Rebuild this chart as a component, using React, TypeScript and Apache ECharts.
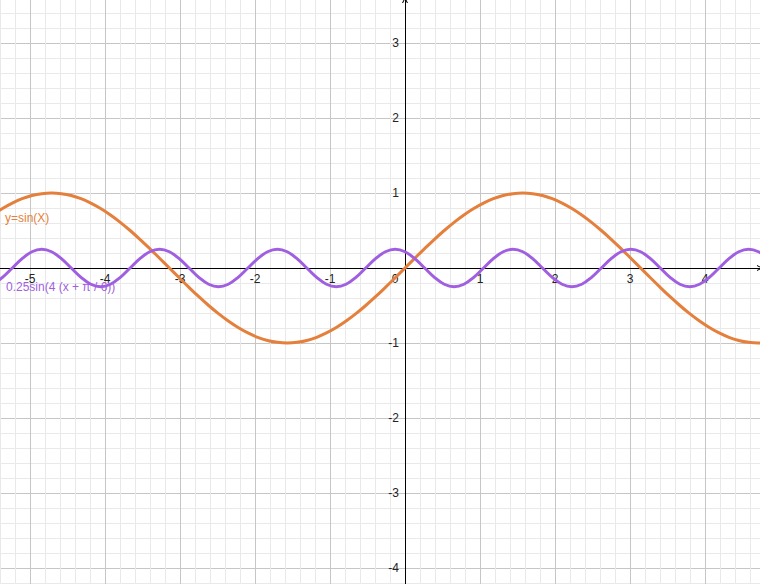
import React, { useEffect, useRef } from "react";
import * as echarts from "echarts";

// sample abscissas (radians)
const xs = [
  -5.4978, -5.3669, -5.236, -5.1051, -4.9742, -4.8433, -4.7124, -4.5815, -4.4506, -4.3197,
  -4.1888, -4.0579, -3.927, -3.7961, -3.6652, -3.5343, -3.4034, -3.2725, -3.1416, -3.0107,
  -2.8798, -2.7489, -2.618, -2.4871, -2.3562, -2.2253, -2.0944, -1.9635, -1.8326, -1.7017,
  -1.5708, -1.4399, -1.309, -1.1781, -1.0472, -0.9163, -0.7854, -0.6545, -0.5236, -0.3927,
  -0.2618, -0.1309, 0, 0.1309, 0.2618, 0.3927, 0.5236, 0.6545, 0.7854, 0.9163,
  1.0472, 1.1781, 1.309, 1.4399, 1.5708, 1.7017, 1.8326, 1.9635, 2.0944, 2.2253,
  2.3562, 2.4871, 2.618, 2.7489, 2.8798, 3.0107, 3.1416, 3.2725, 3.4034, 3.5343,
  3.6652, 3.7961, 3.927, 4.0579, 4.1888, 4.3197, 4.4506, 4.5815, 4.7124, 4.8433,
];

// y = sin(X)
const sinValues = [
  0.7071, 0.7934, 0.866, 0.9239, 0.9659, 0.9914, 1, 0.9914, 0.9659, 0.9239,
  0.866, 0.7934, 0.7071, 0.6088, 0.5, 0.3827, 0.2588, 0.1305, 0, -0.1305,
  -0.2588, -0.3827, -0.5, -0.6088, -0.7071, -0.7934, -0.866, -0.9239, -0.9659, -0.9914,
  -1, -0.9914, -0.9659, -0.9239, -0.866, -0.7934, -0.7071, -0.6088, -0.5, -0.3827,
  -0.2588, -0.1305, 0, 0.1305, 0.2588, 0.3827, 0.5, 0.6088, 0.7071, 0.7934,
  0.866, 0.9239, 0.9659, 0.9914, 1, 0.9914, 0.9659, 0.9239, 0.866, 0.7934,
  0.7071, 0.6088, 0.5, 0.3827, 0.2588, 0.1305, 0, -0.1305, -0.2588, -0.3827,
  -0.5, -0.6088, -0.7071, -0.7934, -0.866, -0.9239, -0.9659, -0.9914, -1, -0.9914,
];

// 0.25 sin(4 (x + π / 6))
const waveValues = [
  -0.2165, -0.125, 0, 0.125, 0.2165, 0.25, 0.2165, 0.125, 0, -0.125, -0.2165, -0.25,
  -0.2165, -0.125, 0, 0.125, 0.2165, 0.25, 0.2165, 0.125, 0, -0.125, -0.2165, -0.25,
  -0.2165, -0.125, 0, 0.125, 0.2165, 0.25, 0.2165, 0.125, 0, -0.125, -0.2165, -0.25,
  -0.2165, -0.125, 0, 0.125, 0.2165, 0.25, 0.2165, 0.125, 0, -0.125, -0.2165, -0.25,
  -0.2165, -0.125, 0, 0.125, 0.2165, 0.25, 0.2165, 0.125, 0, -0.125, -0.2165, -0.25,
  -0.2165, -0.125, 0, 0.125, 0.2165, 0.25, 0.2165, 0.125, 0, -0.125, -0.2165, -0.25,
  -0.2165, -0.125, 0, 0.125, 0.2165, 0.25, 0.2165, 0.125,
];

// tick labels shown on each axis
const xTickLabels = [-5, -4, -3, -2, -1, 0, 1, 2, 3, 4];
const yTickLabels = [-4, -3, -2, -1, 1, 2, 3];

const seriesNames = ["y=sin(X)", "0.25sin(4 (x + π / 6))"];

const ORANGE = "#e57f3c";
const PURPLE = "#a05fe0";
const FONT = "'Liberation Sans', Arial, sans-serif";
const ARROW = "path://M0,10 L5,0 L10,10 L8.2,10 L5,3.6 L1.8,10 Z";

export default function App() {
  const ref = useRef<HTMLDivElement>(null);
  useEffect(() => {
    if (!ref.current) return;
    const chart = echarts.init(ref.current, undefined, { renderer: "svg" });
    const gridAxisCommon = {
      type: "value" as const,
      interval: 1,
      axisTick: { show: false },
      minorTick: { show: false, splitNumber: 5 },
      splitLine: { show: true, lineStyle: { color: "#c6c6c6", width: 1 } },
      minorSplitLine: { show: true, lineStyle: { color: "#e9e9e9", width: 1 } },
      axisLine: { show: false, onZero: false },
    };
    chart.setOption({
      animation: false,
      backgroundColor: "#ffffff",
      grid: [
        { left: -45, top: -32, width: 825, height: 675, containLabel: false, outerBoundsMode: "none" },
        { left: 0, top: 0, width: 760, height: 584, containLabel: false, outerBoundsMode: "none" },
      ],
      xAxis: [
        {
          ...gridAxisCommon,
          gridIndex: 0,
          min: -6,
          max: 5,
          position: "bottom",
          offset: -375,
          axisLabel: {
            show: true,
            margin: 5,
            color: "#222",
            fontSize: 12,
            fontFamily: FONT,
            formatter: (v: number) =>
              xTickLabels.indexOf(v) < 0 ? "" : v === 0 ? "{z|0}" : String(v),
            rich: { z: { padding: [0, 20, 0, 0], fontSize: 12, fontFamily: FONT, color: "#222" } },
          },
        },
        {
          type: "value",
          gridIndex: 1,
          min: -5.4,
          max: 4.7333,
          axisLine: {
            show: true,
            onZero: true,
            symbol: ["none", ARROW],
            symbolSize: [8, 6],
            lineStyle: { color: "#000", width: 1 },
          },
          axisTick: { show: false },
          axisLabel: { show: false },
          splitLine: { show: false },
        },
      ],
      yAxis: [
        {
          ...gridAxisCommon,
          gridIndex: 0,
          min: -5,
          max: 4,
          position: "left",
          offset: -450,
          axisLabel: {
            show: true,
            margin: 6,
            color: "#222",
            fontSize: 12,
            fontFamily: FONT,
            formatter: (v: number) => (yTickLabels.indexOf(v) < 0 ? "" : String(v)),
          },
        },
        {
          type: "value",
          gridIndex: 1,
          min: -4.2133,
          max: 3.5733,
          axisLine: {
            show: true,
            onZero: true,
            symbol: ["none", ARROW],
            symbolSize: [8, 6],
            lineStyle: { color: "#000", width: 1 },
          },
          axisTick: { show: false },
          axisLabel: { show: false },
          splitLine: { show: false },
        },
      ],
      series: [
        {
          name: seriesNames[0],
          type: "line",
          xAxisIndex: 0,
          yAxisIndex: 0,
          showSymbol: false,
          smooth: 0.4,
          data: xs.map((x, i) => [x, sinValues[i]]),
          lineStyle: { color: ORANGE, width: 3 },
          itemStyle: { color: ORANGE },
          z: 3,
          markPoint: {
            silent: true,
            symbol: "circle",
            symbolSize: 0,
            label: {
              show: true,
              position: "right",
              distance: 0,
              color: ORANGE,
              fontSize: 12,
              fontFamily: FONT,
              formatter: seriesNames[0],
            },
            data: [{ coord: [-5.333, 0.667] }],
          },
        },
        {
          name: seriesNames[1],
          type: "line",
          xAxisIndex: 0,
          yAxisIndex: 0,
          showSymbol: false,
          smooth: 0.4,
          data: xs.map((x, i) => [x, waveValues[i]]),
          lineStyle: { color: PURPLE, width: 3 },
          itemStyle: { color: PURPLE },
          z: 4,
          markPoint: {
            silent: true,
            symbol: "circle",
            symbolSize: 0,
            label: {
              show: true,
              position: "right",
              distance: 0,
              color: PURPLE,
              fontSize: 12,
              fontFamily: FONT,
              formatter: seriesNames[1],
            },
            data: [{ coord: [-5.32, -0.253] }],
          },
        },
      ],
    });
    return () => chart.dispose();
  }, []);
  return (
    <div
      ref={ref}
      style={{ position: "fixed", left: 0, top: 0, width: 760, height: 584, background: "#fff" }}
    />
  );
}
